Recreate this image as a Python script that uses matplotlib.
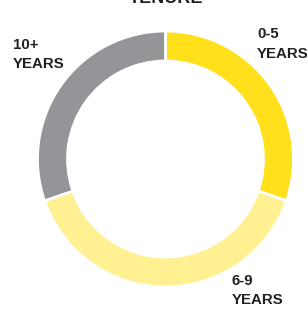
import matplotlib.pyplot as plt

# tenure split
labels = ['0-5\nYEARS', '6-9\nYEARS', '10+\nYEARS']
shares = [30.3, 39.4, 30.3]
colors = ['#FFE01B', '#FFF091', '#939598']

W, H = 308, 311
fig = plt.figure(figsize=(W / 100, H / 100), dpi=100)
ax = fig.add_axes([0, 0, 1, 1])

ax.pie(shares, colors=colors, startangle=90, counterclock=False,
       center=(165.5, H - 159), radius=128, frame=True,
       wedgeprops=dict(width=30, edgecolor='white', linewidth=2))
ax.set_xlim(0, W)
ax.set_ylim(0, H)
ax.set_aspect('equal')
ax.axis('off')

fam = ['Liberation Sans', 'DejaVu Sans']
font = dict(family=fam, weight='bold', color='#231F20',
            fontsize=10.8, linespacing=1.5)

# label anchors (top-left corners, pixels from top)
label_pos = [(257, 27), (232, 274), (13, 38)]
for lab, (x, y) in zip(labels, label_pos):
    ax.text(x, H - y, lab, ha='left', va='top', **font)

ax.text(166, H - 3, 'TENURE', ha='center', va='baseline',
        family=fam, weight='bold', color='#231F20', fontsize=13)

fig.savefig('out.png', dpi=100)
